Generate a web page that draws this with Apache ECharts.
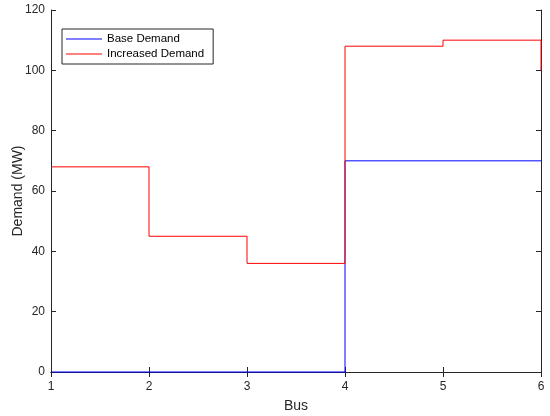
<!DOCTYPE html>
<html>
<head>
<meta charset="utf-8">
<script src="https://cdn.jsdelivr.net/npm/echarts@6/dist/echarts.min.js"></script>
<style>
html,body{margin:0;padding:0;background:#fff;}
#chart{width:550px;height:416px;}
</style>
</head>
<body>
<div id="chart"></div>
<script>
var buses = [1, 2, 3, 4, 5, 6];
var baseDemand = [0, 0, 0, 70, 70, 70];
var increasedDemand = [68, 45, 36, 108, 110, 100];
var yTicks = [0, 20, 40, 60, 80, 100, 120];

function pairs(xs, ys) { return xs.map(function (x, i) { return [x, ys[i]]; }); }

var axisColor = '#262626';
var font = 'Liberation Sans, Arial, sans-serif';
var chart = echarts.init(document.getElementById('chart'));
chart.setOption({
  backgroundColor: '#fff',
  animation: false,
  grid: { left: 51, right: 9, top: 10, bottom: 44, containLabel: false, outerBoundsMode: 'none' },
  legend: {
    orient: 'vertical', left: 62, top: 29,
    padding: [3, 9, 3, 4], itemGap: 1, itemWidth: 36, itemHeight: 1,
    icon: 'rect',
    borderColor: axisColor, borderWidth: 1, backgroundColor: '#fff',
    textStyle: { fontFamily: font, fontSize: 11.5, color: '#000', lineHeight: 14 },
    data: ['Base Demand', 'Increased Demand']
  },
  xAxis: [{
    type: 'value', min: 1, max: 6, interval: 1,
    name: 'Bus', nameLocation: 'middle', nameGap: 27, nameMoveOverlap: false,
    nameTextStyle: { fontFamily: font, fontSize: 14, color: axisColor },
    axisLine: { lineStyle: { color: axisColor, width: 1 } },
    axisTick: { inside: true, length: 5, lineStyle: { color: axisColor } },
    axisLabel: { fontFamily: font, fontSize: 12, color: axisColor, margin: 9 },
    splitLine: { show: false }
  }, {
    type: 'value', min: 1, max: 6, interval: 1, position: 'top',
    axisLine: { show: true, lineStyle: { color: axisColor, width: 1 } },
    axisTick: { show: true, inside: true, length: 5, lineStyle: { color: axisColor } },
    axisLabel: { show: false }, splitLine: { show: false }
  }],
  yAxis: [{
    type: 'value', min: 0, max: 120, interval: 20,
    name: 'Demand (MW)', nameLocation: 'middle', nameGap: 26, nameMoveOverlap: false,
    nameTextStyle: { fontFamily: font, fontSize: 14, color: axisColor },
    axisLine: { show: true, lineStyle: { color: axisColor, width: 1 } },
    axisTick: { show: true, inside: true, length: 5, lineStyle: { color: axisColor } },
    axisLabel: { fontFamily: font, fontSize: 12, color: axisColor, margin: 6,
      formatter: function (v) { return yTicks.indexOf(v) >= 0 ? String(v) : ''; } },
    splitLine: { show: false }
  }, {
    type: 'value', min: 0, max: 120, interval: 20, position: 'right',
    axisLine: { show: true, lineStyle: { color: axisColor, width: 1 } },
    axisTick: { show: true, inside: true, length: 5, lineStyle: { color: axisColor } },
    axisLabel: { show: false }, splitLine: { show: false }
  }],
  series: [{
    name: 'Base Demand', type: 'line', step: 'end', symbol: 'none', clip: false,
    data: pairs(buses, baseDemand),
    lineStyle: { color: '#0000ff', width: 1 }, itemStyle: { color: '#0000ff' }, z: 5
  }, {
    name: 'Increased Demand', type: 'line', step: 'end', symbol: 'none', clip: false,
    data: pairs(buses, increasedDemand),
    lineStyle: { color: '#ff0000', width: 1 }, itemStyle: { color: '#ff0000' }, z: 5
  }]
});
</script>
</body>
</html>
